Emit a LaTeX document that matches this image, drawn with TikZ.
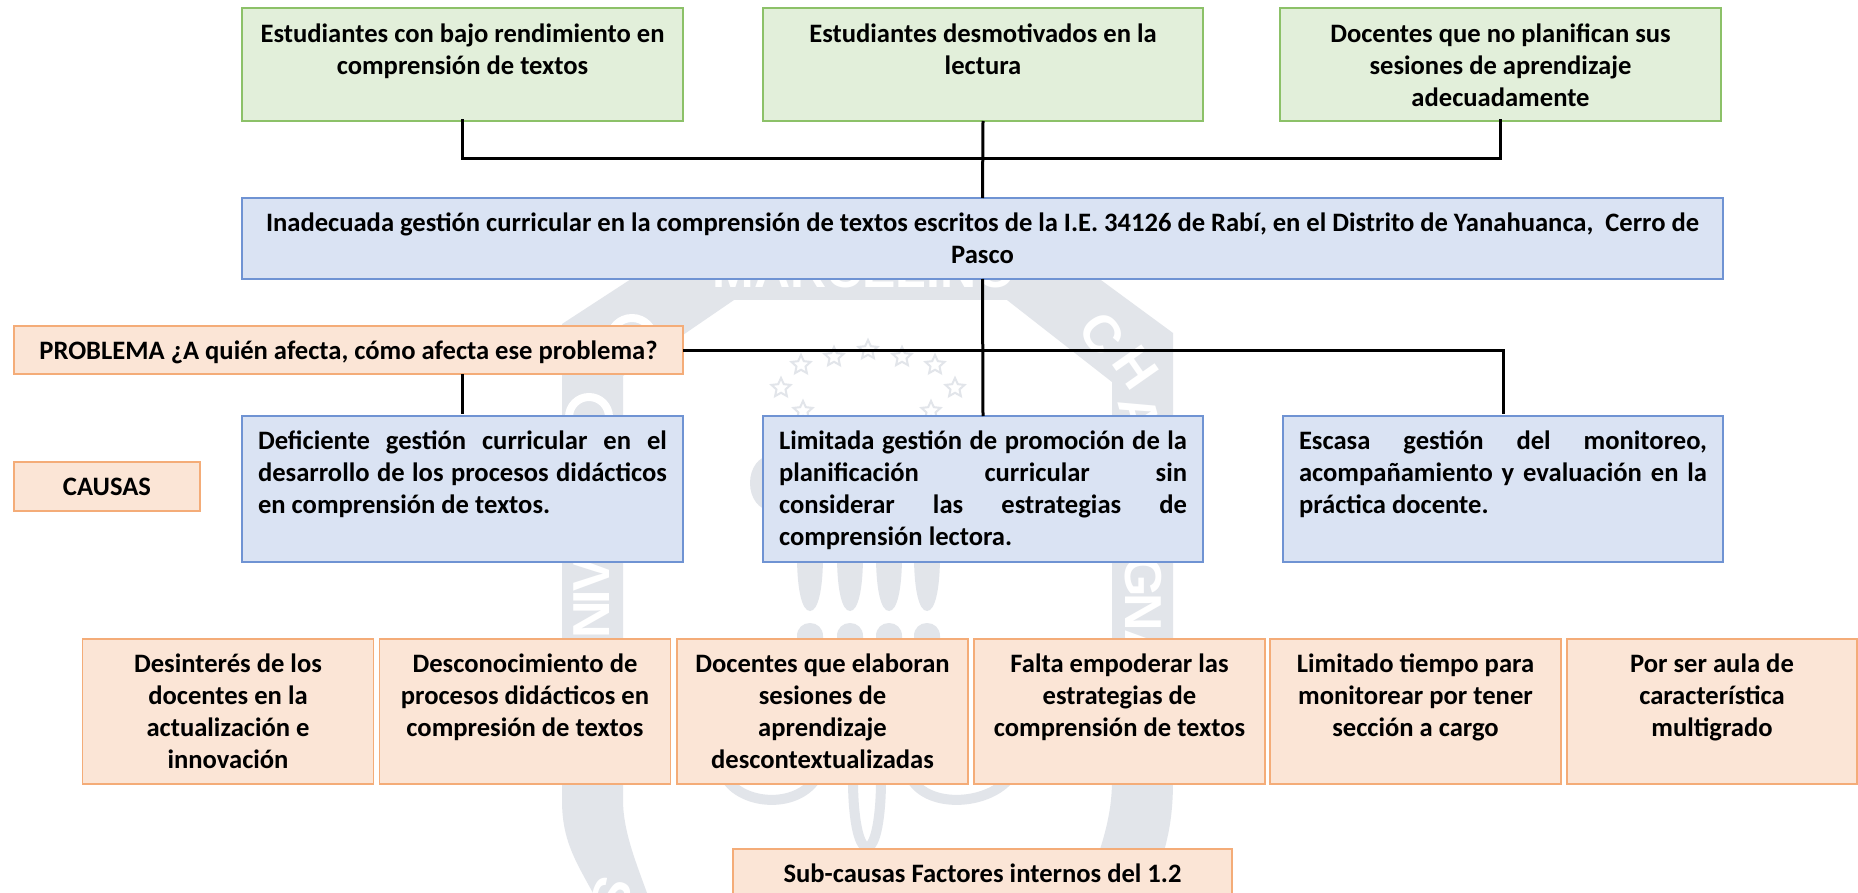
\documentclass[tikz,border=0pt]{standalone}
\usepackage{fontspec}
\usetikzlibrary{shapes.geometric}
\setmainfont{Carlito}
\newfontfamily\wmfont{Liberation Sans}
\definecolor{wm}{HTML}{E2E5EA}
\definecolor{gfill}{HTML}{E2EFDA}
\definecolor{gline}{HTML}{8CC168}
\definecolor{bfill}{HTML}{DAE3F3}
\definecolor{bline}{HTML}{6F93D3}
\definecolor{ofill}{HTML}{FBE5D6}
\definecolor{oline}{HTML}{F4AC78}
% cell: height, width, alignment + text; first baseline about 34 below the top
\newlength\firstgap
\setlength\firstgap{11pt}
\newcommand\tcell[4]{\parbox[c][#1pt][t]{#2pt}{#3\vspace*{\firstgap}\strut #4}}
\newcommand\cencell[3]{\tcell{#1}{#2}{\centering}{#3}}
\newcommand\topcell[3]{\tcell{#1}{#2}{\centering\vspace*{1.5pt}}{#3}}
\newcommand\juscell[3]{\tcell{#1}{#2}{\tolerance=10000 \hbadness=10000 }{#3}}
\tikzset{
  box/.style={anchor=north west,inner xsep=8pt,inner ysep=0pt,outer sep=0pt,line width=1.3pt,
    font=\bfseries\fontsize{26.6}{32}\selectfont},
  gbox/.style={box,draw=gline,fill=gfill},
  bbox/.style={box,draw=bline,fill=bfill},
  obox/.style={box,draw=oline,fill=ofill},
  jbox/.style={bbox,inner xsep=16pt},
  conn/.style={black,line width=3pt},
  wmtext/.style={white,font=\wmfont\bfseries\fontsize{52}{52}\selectfont,inner sep=0pt},
  wmstar/.style={star,star points=5,star point ratio=2.1,draw=wm,line width=2pt,minimum size=20pt,inner sep=0pt}
}
\begin{document}
\begin{tikzpicture}[x=1pt,y=-1pt]
\useasboundingbox (0,0) rectangle (1858,893);
\fill[white] (0,0) rectangle (1858,893);
% watermark
\fill[wm] (714,225) -- (1026,225) -- (1173,333) -- (1173,780)
  .. controls (1173,820) and (1168,845) .. (1150,893) -- (1085,893)
  .. controls (1100,850) and (1112,820) .. (1112,780) -- (1112,382) -- (1007,300) -- (734,300)
  -- (623,376) -- (623,800) .. controls (623,830) and (635,860) .. (647,893) -- (593,893)
  .. controls (575,860) and (562,840) .. (562,800) -- (562,324) -- cycle;
\node[wmtext,anchor=base,font=\wmfont\bfseries\fontsize{50}{50}\selectfont] (wm0) at (864,288) {MARCELINO};
\draw[white,line width=8pt] (589,417) circle (20);
\draw[white,line width=8pt] (632,340) circle (22);
\node[wmtext,rotate=90] (wm1) at (592,574) {V};
\node[wmtext,rotate=90] (wm2) at (592,597) {I};
\node[wmtext,rotate=90] (wm3) at (592,620) {N};
\node[wmtext,rotate=70] (wm4) at (612,895) {S};
\node[wmtext,rotate=-55] (wm5) at (1102,334) {C};
\node[wmtext,rotate=-55] (wm6) at (1136,368) {H};
\node[wmtext,rotate=-75] (wm7) at (1140,415) {A};
\node[wmtext,rotate=-90] (wm8) at (1143,577) {G};
\node[wmtext,rotate=-90] (wm9) at (1143,612) {N};
\node[wmtext,rotate=-90] (wm10) at (1143,648) {A};
\foreach \i/\x/\y in {1/781/388,2/801/365,3/834/357,4/868/350,5/902/357,6/935/365,7/955/388,8/803/411,9/931/411}
  \node[wmstar] (st\i) at (\x,\y) {};
\foreach \x in {810,850,889,927}{
  \fill[wm] (\x-13,555) .. controls (\x-13,590) and (\x-8,611) .. (\x,611)
    .. controls (\x+8,611) and (\x+13,590) .. (\x+13,555) -- cycle;
  \fill[wm] (\x-13,650) -- (\x-13,636) .. controls (\x-13,628) and (\x-7,623) .. (\x,623)
    .. controls (\x+7,623) and (\x+13,628) .. (\x+13,636) -- (\x+13,650) -- cycle;
}
\fill[wm] (770,483) ellipse (20 and 27);
\draw[wm,line width=10pt] (853,780) .. controls (853,815) and (858,847) .. (867,847)
  .. controls (876,847) and (881,815) .. (881,780);
\draw[wm,line width=10pt] (727,780) .. controls (745,805) and (795,808) .. (815,780);
\draw[wm,line width=10pt] (912,780) .. controls (930,808) and (985,805) .. (1008,780);
% top row
\node[gbox] (g1) at (242,8) {\topcell{113}{425}{Estudiantes con bajo rendimiento en\\comprensión de textos}};
\node[gbox] (g2) at (763,8) {\topcell{113}{424}{Estudiantes desmotivados en la\\lectura}};
\node[gbox] (g3) at (1280,8) {\topcell{113}{425}{Docentes que no planifican sus\\sesiones de aprendizaje\\adecuadamente}};
% main
\node[bbox] (main) at (242,198) {\cencell{81}{1465}{\makebox[1433pt][s]{Inadecuada gestión curricular en la comprensión de textos escritos de la I.E. 34126 de Rabí, en el Distrito de Yanahuanca,\ \ Cerro de}\\Pasco}};
% labels
\node[obox] (prob) at (14,326) {\cencell{48}{653}{PROBLEMA ¿A quién afecta, cómo afecta ese problema?}};
\node[obox] (caus) at (14,462) {\cencell{49}{170}{CAUSAS}};
% causes
\node[jbox] (b1) at (242,416) {\juscell{146}{409}{Deficiente gestión curricular en el\linebreak desarrollo de los procesos didácticos\linebreak en comprensión de textos.}};
\node[jbox] (b2) at (763,416) {\juscell{146}{408}{Limitada gestión de promoción de la\linebreak planificación curricular sin\linebreak considerar las estrategias de\linebreak comprensión lectora.}};
\node[jbox] (b3) at (1283,416) {\juscell{146}{408}{Escasa gestión del monitoreo,\linebreak acompañamiento y evaluación en la\linebreak práctica docente.}};
% sub-causes
\node[obox] (s1) at (82.5,639) {\cencell{145}{275}{Desinterés de los\\docentes en la\\actualización e\\innovación}};
\node[obox] (s2) at (379.5,639) {\cencell{145}{275}{Desconocimiento de\\procesos didácticos en\\compresión de textos}};
\node[obox] (s3) at (677,639) {\cencell{145}{275}{Docentes que elaboran\\sesiones de\\aprendizaje\\descontextualizadas}};
\node[obox] (s4) at (974,639) {\cencell{145}{275}{Falta empoderar las\\estrategias de\\comprensión de textos}};
\node[obox] (s5) at (1270,639) {\cencell{145}{275}{Limitado tiempo para\\monitorear por tener\\sección a cargo}};
\node[obox] (s6) at (1567,639) {\cencell{145}{274}{Por ser aula de\\característica\\multigrado}};
\node[obox] (sub) at (733,849) {\cencell{50}{483}{Sub-causas Factores internos del 1.2}};
% connectors
\coordinate (jt) at (main.north |- 0,158.7);
\draw[conn,line cap=rect] (g1.south) |- (jt) -| (g3.south);
\draw[conn] (g2.south) -- (main.north);
\draw[conn] (main.south) -- (b2.north);
\draw[conn] (prob.east) -| ([yshift=2pt]b3.north);
\draw[conn] (b1.north |- prob.south) -- ([yshift=2pt]b1.north);
\end{tikzpicture}
\end{document}
